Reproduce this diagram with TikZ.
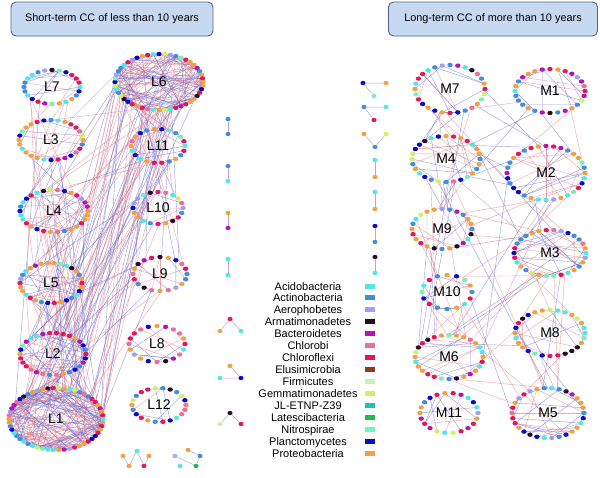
\documentclass[tikz,border=0pt]{standalone}
\usepackage{fontspec}
\setmainfont{Liberation Sans}
\usetikzlibrary{shapes.geometric}
\definecolor{orangeP}{RGB}{240,160,70}
\definecolor{cyanP}{RGB}{80,230,235}
\definecolor{steelP}{RGB}{70,140,220}
\definecolor{crimsonP}{RGB}{230,20,90}
\definecolor{blueP}{RGB}{10,10,200}
\definecolor{magentaP}{RGB}{180,20,180}
\definecolor{ygP}{RGB}{210,240,100}
\definecolor{pinkP}{RGB}{240,110,150}
\definecolor{mintP}{RGB}{120,240,190}
\definecolor{darkP}{RGB}{40,10,40}
\definecolor{lavP}{RGB}{160,160,240}
\definecolor{brownP}{RGB}{140,60,30}
\definecolor{paleP}{RGB}{200,240,190}
\definecolor{tealP}{RGB}{30,190,190}
\definecolor{greenP}{RGB}{30,190,70}
\definecolor{edgeRc}{RGB}{225,120,130}
\definecolor{edgeBc}{RGB}{100,100,210}
\definecolor{hdrfill}{RGB}{198,217,241}
\definecolor{hdrline}{RGB}{80,100,140}
\definecolor{motifc}{RGB}{195,165,190}
\newcommand\dotcol[1]{\ifcase#1 orangeP\or orangeP\or orangeP\or orangeP\or orangeP\or cyanP\or cyanP\or cyanP\or steelP\or steelP\or steelP\or crimsonP\or crimsonP\or crimsonP\or blueP\or blueP\or magentaP\or ygP\or pinkP\or mintP\or darkP\or lavP\else orangeP\fi}
\newcommand\mkmod[5]{\node[modshape, minimum width=#4*2pt, minimum height=#5*2pt] (#1) at (#2,#3) {};}
\newcommand\drawmod[7]{%
  \foreach \ii in {1,...,#7}{%
    \pgfmathrandominteger{\dka}{1}{#6}%
    \pgfmathrandominteger{\dkb}{1}{#6}%
    \pgfmathrandominteger{\decol}{0}{1}%
    \pgfmathsetmacro\danga{\dka/#6*360}%
    \pgfmathsetmacro\dangb{\dkb/#6*360}%
    \ifnum\decol=0 \def\ecol{edgeR}\else\def\ecol{edgeB}\fi
    \draw[\ecol] ({#2+#4*cos(\danga)},{#3+#5*sin(\danga)}) -- ({#2+#4*cos(\dangb)},{#3+#5*sin(\dangb)});
  }%
  \foreach \kk in {1,...,#6}{%
    \pgfmathrandominteger{\dcidx}{0}{21}%
    \pgfmathsetmacro\danga{\kk/#6*360}%
    \edef\dcname{\dotcol{\dcidx}}%
    \fill[\dcname] ({#2+#4*cos(\danga)},{#3+#5*sin(\danga)}) ellipse [x radius=2.7pt, y radius=2.2pt];
  }%
  \node[modlabel] at (#2,#3) {#1};
}
\newcommand\links[3]{%
  \pgfmathanglebetweenpoints{\pgfpointanchor{#1}{center}}{\pgfpointanchor{#2}{center}}%
  \let\dirAB\pgfmathresult
  \foreach \ii in {1,...,#3}{%
    \pgfmathtruncatemacro\lra{mod(\dirAB+rand*75+720,360)}%
    \pgfmathtruncatemacro\lrb{mod(\dirAB+180+rand*75+720,360)}%
    \pgfmathrandominteger{\decol}{0}{1}%
    \ifnum\decol=0 \def\ecol{edgeR}\else\def\ecol{edgeB}\fi
    \draw[\ecol] (#1.\lra) -- (#2.\lrb);
  }%
}
\tikzset{
  modshape/.style={ellipse, inner sep=0pt, outer sep=0pt},
  edgeR/.style={draw=edgeRc, line width=0.4pt, opacity=0.65},
  edgeB/.style={draw=edgeBc, line width=0.4pt, opacity=0.65},
  modlabel/.style={font=\fontsize{14}{16}\selectfont, inner sep=0pt},
  hdr/.style={draw=hdrline, fill=hdrfill, rounded corners=5pt, line width=0.9pt, font=\fontsize{10.9}{12}\selectfont, inner sep=0pt},
  dotn/.style={ellipse, minimum width=5.2pt, minimum height=4.2pt, inner sep=0pt},
  medge/.style={draw=motifc, line width=0.5pt},
  legtext/.style={font=\fontsize{11}{12}\selectfont, inner sep=0pt, anchor=base},
  swatch/.style={minimum width=10pt, minimum height=5pt, inner sep=0pt},
}
\begin{document}
\begin{tikzpicture}[x=1pt,y=-1pt]
\fill[white] (0,0) rectangle (600,477);
\useasboundingbox (0,0) rectangle (600,477);
\pgfmathsetseed{42}
% headers
\node[hdr, minimum width=202pt, minimum height=34pt] (h1) at (112,19) {Short-term CC of less than 10 years};
\node[hdr, minimum width=209pt, minimum height=34pt] (h2) at (493,19) {Long-term CC of more than 10 years};
% module shapes
\foreach \mn/\mx/\my/\mrx/\mry/\mnd/\mne in {
  L7/52/87/28/17/24/14, L6/159/82/44/28/48/140, L3/51/140/32/20/28/14,
  L11/158/146/27/17/22/10, L4/54/211/34/21/30/35, L10/158/208/25/16/20/8,
  L5/51/283/31/20/30/30, L9/160/274/27/17/20/10, L2/53/354/33/21/30/35,
  L8/157/344/28/18/20/12, L1/56/419/47/31/54/180, L12/159/405/27/17/22/8,
  M7/450/89/35/24/28/12, M1/550/91/35/22/28/14, M4/446/159/34/23/28/22,
  M2/546/173/39/27/32/20, M9/442/229/30/20/24/16, M3/550/253/36/23/30/30,
  M10/447/292/25/17/16/8, M8/550/333/35/23/28/16, M6/449/357/34/22/28/20,
  M11/449/413/29/20/22/8, M5/548/413/36/25/30/30}
  {\mkmod{\mn}{\mx}{\my}{\mrx}{\mry}}
% inter-module links
\foreach \la/\lb/\lc in {
  L6/L1/22, L6/L2/10, L6/L5/8, L6/L4/8, L6/L3/3, L6/L11/6, L6/L10/4, L6/L9/4,
  L7/L1/3, L7/L3/3, L7/L4/2, L3/L4/5, L3/L1/4, L4/L5/8, L4/L1/8, L4/L2/5,
  L5/L2/8, L5/L1/8, L2/L1/14, L11/L1/5, L11/L2/3, L11/L4/3, L10/L1/4, L10/L5/3,
  L9/L1/4, L9/L2/3, L9/L5/2, L9/L11/2,
  M7/M4/6, M7/M2/3, M7/M9/2, M7/M1/1, M1/M2/3, M1/M4/2, M4/M2/4, M4/M9/5,
  M4/M3/3, M4/M6/3, M4/M5/2, M2/M3/5, M2/M6/3, M2/M9/2, M9/M3/3, M9/M6/4,
  M9/M10/2, M3/M6/4, M3/M8/3, M3/M5/3, M10/M6/4, M10/M3/2, M6/M5/3, M8/M5/4,
  M8/M6/2, M10/M5/2}
  {\links{\la}{\lb}{\lc}}
% modules drawn
\foreach \mn/\mx/\my/\mrx/\mry/\mnd/\mne in {
  L7/52/87/28/17/24/14, L6/159/82/44/28/48/140, L3/51/140/32/20/28/14,
  L11/158/146/27/17/22/10, L4/54/211/34/21/30/35, L10/158/208/25/16/20/8,
  L5/51/283/31/20/30/30, L9/160/274/27/17/20/10, L2/53/354/33/21/30/35,
  L8/157/344/28/18/20/12, L1/56/419/47/31/54/180, L12/159/405/27/17/22/8,
  M7/450/89/35/24/28/12, M1/550/91/35/22/28/14, M4/446/159/34/23/28/22,
  M2/546/173/39/27/32/20, M9/442/229/30/20/24/16, M3/550/253/36/23/30/30,
  M10/447/292/25/17/16/8, M8/550/333/35/23/28/16, M6/449/357/34/22/28/20,
  M11/449/413/29/20/22/8, M5/548/413/36/25/30/30}
  {\drawmod{\mn}{\mx}{\my}{\mrx}{\mry}{\mnd}{\mne}}
% small motifs: left middle pairs
\node[dotn, fill=steelP] (pa1) at (228,119) {};
\node[dotn, fill=steelP] (pa2) at (228,134) {};
\node[dotn, fill=steelP] (pb1) at (228,166) {};
\node[dotn, fill=cyanP] (pb2) at (228,181) {};
\node[dotn, fill=orangeP] (pc1) at (228,213) {};
\node[dotn, fill=magentaP] (pc2) at (228,228) {};
\node[dotn, fill=cyanP] (pd1) at (228,259) {};
\node[dotn, fill=cyanP] (pd2) at (228,275) {};
\draw[medge] (pa1) -- (pa2);
\draw[medge] (pb1) -- (pb2);
\draw[medge] (pc1) -- (pc2);
\draw[medge] (pd1) -- (pd2);
% V motifs
\node[dotn, fill=crimsonP] (va1) at (230,319) {};
\node[dotn, fill=orangeP] (va2) at (220,331) {};
\node[dotn, fill=cyanP] (va3) at (241,331) {};
\draw[medge] (va1) -- (va2) (va1) -- (va3);
\node[dotn, fill=orangeP] (vb1) at (230,366) {};
\node[dotn, fill=cyanP] (vb2) at (220,378) {};
\node[dotn, fill=blueP] (vb3) at (241,378) {};
\draw[medge] (vb1) -- (vb3) (vb2) -- (vb3);
\node[dotn, fill=darkP] (vc1) at (230,413) {};
\node[dotn, fill=paleP] (vc2) at (220,424) {};
\node[dotn, fill=crimsonP] (vc3) at (241,424) {};
\draw[medge] (vc1) -- (vc2) (vc1) -- (vc3);
% bottom motifs
\node[dotn, fill=orangeP] (ba1) at (123,456) {};
\node[dotn, fill=cyanP] (ba2) at (137,451) {};
\node[dotn, fill=orangeP] (ba3) at (149,456) {};
\node[dotn, fill=orangeP] (ba4) at (129,466) {};
\node[dotn, fill=crimsonP] (ba5) at (144,466) {};
\draw[medge] (ba1) -- (ba4) -- (ba2) -- (ba5) -- (ba3);
\node[dotn, fill=steelP!60] (bb1) at (175,456) {};
\node[dotn, fill=orangeP] (bb2) at (188,450) {};
\node[dotn, fill=steelP] (bb3) at (200,456) {};
\node[dotn, fill=cyanP] (bb4) at (180,466) {};
\node[dotn, fill=greenP] (bb5) at (196,466) {};
\draw[medge] (bb1) -- (bb5) -- (bb3) -- (bb2);
% right middle motifs
\node[dotn, fill=blueP] (ta1) at (363,83) {};
\node[dotn, fill=orangeP] (ta2) at (386,83) {};
\node[dotn, fill=mintP] (ta3) at (374,96) {};
\draw[medge] (ta1) -- (ta2) (ta1) -- (ta3);
\node[dotn, fill=steelP] (tb1) at (364,107) {};
\node[dotn, fill=cyanP] (tb2) at (386,107) {};
\node[dotn, fill=crimsonP] (tb3) at (374,120) {};
\draw[medge] (tb1) -- (tb2) (tb1) -- (tb3);
\node[dotn, fill=orangeP] (tc1) at (364,134) {};
\node[dotn, fill=ygP] (tc2) at (386,134) {};
\node[dotn, fill=steelP] (tc3) at (375,147) {};
\draw[medge] (tc1) -- (tc3) (tc2) -- (tc3);
\node[dotn, fill=cyanP] (qa1) at (375,160) {};
\node[dotn, fill=orangeP] (qa2) at (375,177) {};
\node[dotn, fill=cyanP] (qb1) at (375,192) {};
\node[dotn, fill=orangeP] (qb2) at (375,209) {};
\node[dotn, fill=blueP] (qc1) at (375,226) {};
\node[dotn, fill=steelP] (qc2) at (375,242) {};
\node[dotn, fill=darkP] (qd1) at (375,257) {};
\node[dotn, fill=cyanP] (qd2) at (375,273) {};
\draw[medge] (qa1) -- (qa2);
\draw[medge] (qb1) -- (qb2);
\draw[medge] (qc1) -- (qc2);
\draw[medge] (qd1) -- (qd2);
% legend
\foreach \i/\t/\c in {1/Acidobacteria/cyanP, 2/Actinobacteria/steelP, 3/Aerophobetes/lavP,
  4/Armatimonadetes/darkP, 5/Bacteroidetes/magentaP, 6/Chlorobi/pinkP, 7/Chloroflexi/crimsonP,
  8/Elusimicrobia/brownP, 9/Firmicutes/paleP, 10/Gemmatimonadetes/ygP, 11/JL-ETNP-Z39/tealP,
  12/Latescibacteria/greenP, 13/Nitrospirae/mintP, 14/Planctomycetes/blueP, 15/Proteobacteria/orangeP}{
  \pgfmathsetmacro\ly{286+11.93*(\i-1)}
  \node[legtext] (lg\i) at (308,\ly+4) {\t};
  \node[swatch, fill=\c] (sw\i) at (370,\ly) {};
}
\end{tikzpicture}
\end{document}
